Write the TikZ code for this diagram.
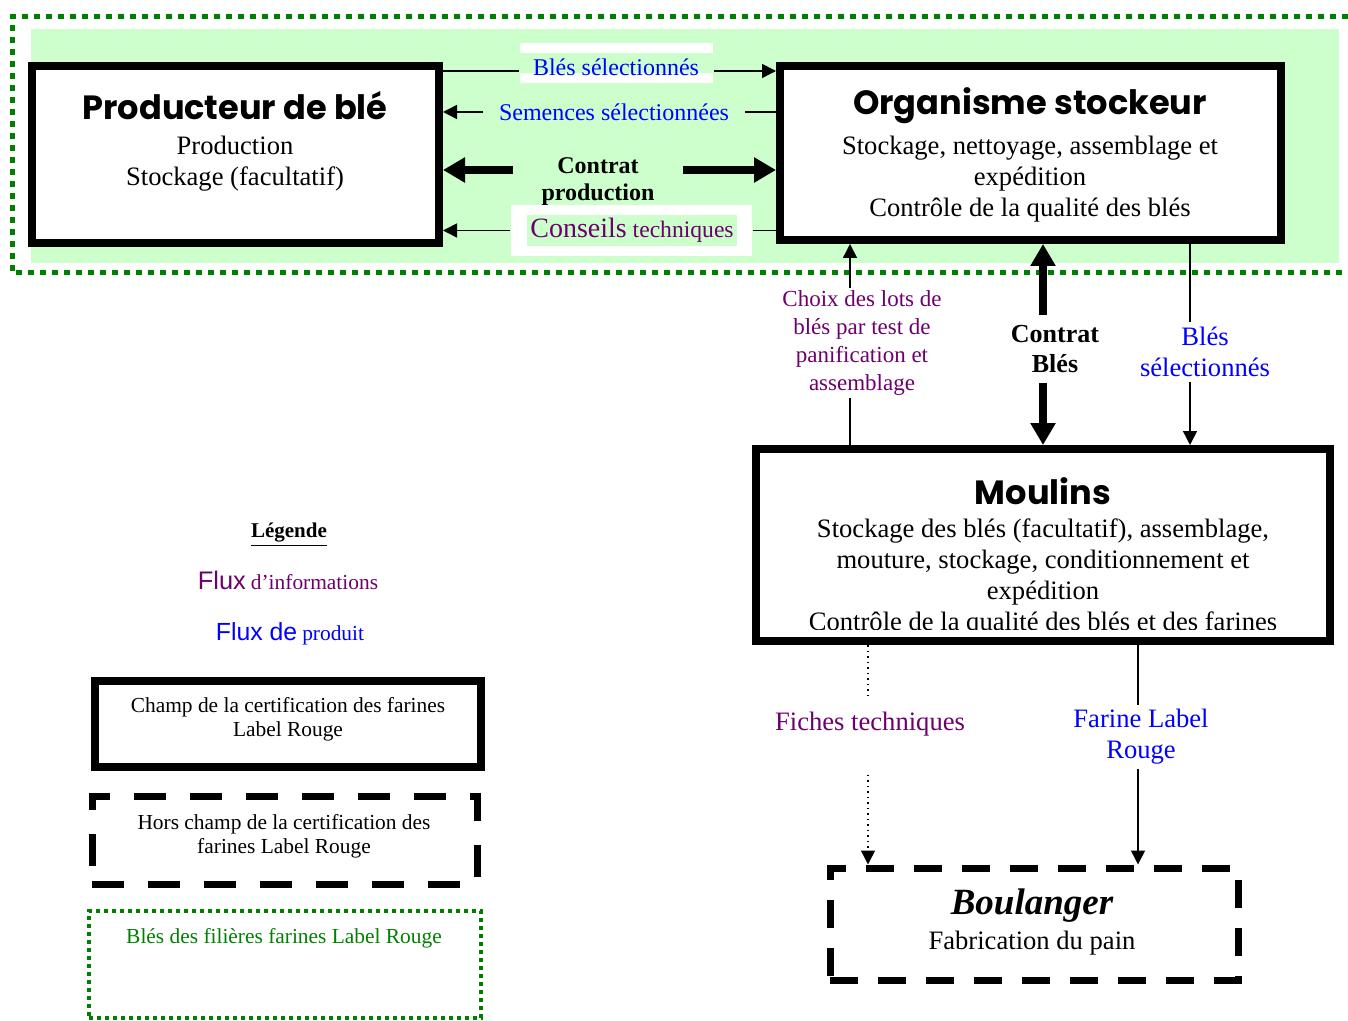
\documentclass[tikz,border=0pt]{standalone}
\usepackage{fontspec}
\setmainfont{Liberation Serif}
\newfontfamily\arialfont{Liberation Sans}
\newfontfamily\titlefont{Poppins}
\usetikzlibrary{arrows.meta,positioning}
\definecolor{vertclair}{HTML}{CCFFCC}
\definecolor{vertfonce}{HTML}{008000}
\definecolor{violetinfo}{HTML}{6E006E}
\definecolor{bleuproduit}{HTML}{0000FF}
\tikzset{every picture/.style={line width=0.75pt}}

\begin{document}
\begin{tikzpicture}[x=0.5pt,y=-0.5pt,
  boite/.style={draw, line width=4pt, fill=white},
  titre/.style={font=\titlefont\bfseries\fontsize{16.8}{20}\selectfont},
  texte/.style={align=center, font=\fontsize{13.3}{15.5}\selectfont},
  petit/.style={align=center, font=\fontsize{12}{14}\selectfont},
  legtexte/.style={align=center, font=\fontsize{10.7}{12}\selectfont},
  info/.style={text=violetinfo},
  produit/.style={text=bleuproduit},
  fleche/.style={-{Triangle[length=7pt,width=7pt]}},
  grosse/.style={line width=4pt, -{Triangle[length=11pt,width=12pt]}},
  tirets/.style={line width=3.5pt, dash pattern=on 14pt off 10pt},
  tiretsleg/.style={line width=3.5pt, dash pattern=on 16pt off 12pt},
  pointilles/.style={vertfonce, line width=2.5pt, dash pattern=on 3pt off 3pt},
  pointillesleg/.style={vertfonce, line width=2pt, dash pattern=on 2pt off 2pt}
]
\useasboundingbox (0,0) rectangle (1348,1021);
\fill[vertclair] (31,29) rectangle (1339,263);
\draw[pointilles] (1360,17) -- (12,17) -- (12,273) -- (1360,273);

\node[boite, minimum width=203.5pt, minimum height=88.5pt] (prod) at (235.5,154.5) {};
\node[titre] (prodtitre) at (235,106) {Producteur de blé};
\node[texte] (prodtexte) at (235,164) {Production\\Stockage (facultatif)};

\node[boite, minimum width=250.5pt, minimum height=87pt] (org) at (1030.5,153) {};
\node[titre] (orgtitre) at (1030,106) {Organisme stockeur};
\node[texte] (orgtexte) at (1030,179) {Stockage, nettoyage, assemblage et\\expédition\\Contrôle de la qualité des blés};

\node[boite, minimum width=287pt, minimum height=96pt] (moulins) at (1043,545) {};
\node[titre] (moutitre) at (1043,491) {Moulins};
\begin{scope}
  \clip (760,453) rectangle (1326,629);
  \node[texte] (moutexte) at (1043,577) {Stockage des blés (facultatif), assemblage,\\mouture, stockage, conditionnement et\\expédition\\Contrôle de la qualité des blés et des farines};
\end{scope}

\node[draw, tirets, minimum width=204pt, minimum height=56pt] (boul) at (1034,924) {};
\node[font=\fontsize{18.5}{22}\selectfont\bfseries\itshape] (boultitre) at (1032,906) {Boulanger};
\node[texte] (boultexte) at (1032,943) {Fabrication du pain};

% flux producteur / organisme
\node[fill=white, minimum width=96.5pt, minimum height=20pt, inner sep=0] (blesblanc) at (616.5,63) {};
\fill[vertclair] ([yshift=5pt]blesblanc.west) rectangle ([yshift=-5pt]blesblanc.east);
\node[petit, produit] (bles) at (616,67) {Blés sélectionnés};
\node[petit, produit, inner xsep=7.5pt] (semences) at (614,112) {Semences sélectionnées};
\node[petit, font=\fontsize{12}{13.5}\selectfont\bfseries, inner xsep=14pt] (contratprod) at (598,182) {Contrat\\production};
\node[fill=white, minimum width=120.5pt, minimum height=25.5pt, inner sep=0] (conseilsblanc) at (631.5,230.5) {};
\node[fill=vertclair, info, minimum width=105pt, minimum height=15.5pt, inner sep=0, font=\fontsize{11.8}{14}\selectfont] (conseils) at (632,230.5) {{\fontsize{14}{16}\selectfont Conseils} techniques};

\coordinate (yB) at (0,71);
\coordinate (yC) at (0,170);
\draw (prod.east |- yB) -- (blesblanc.west |- yB);
\draw[fleche] (blesblanc.east |- yB) -- (org.west |- yB);
\draw[fleche] (semences.west) -- (prod.east |- semences.west);
\draw (org.west |- semences.east) -- (semences.east);
\draw[grosse] (contratprod.west |- yC) -- (prod.east |- yC);
\draw[grosse] (contratprod.east |- yC) -- (org.west |- yC);
\draw[fleche] (conseilsblanc.west) -- (prod.east |- conseilsblanc.west);
\draw (org.west |- conseilsblanc.east) -- (conseilsblanc.east);

% flux organisme / moulins
\node[info, align=center, font=\fontsize{11.5}{14}\selectfont, inner ysep=1pt] (choix) at (862,343) {Choix des lots de\\blés par test de\\panification et\\assemblage};
\node[align=center, font=\fontsize{13}{15}\selectfont\bfseries, inner ysep=5pt] (contratbles) at (1055,349) {Contrat\\Blés};
\node[texte, produit, inner ysep=2pt] (blesmou) at (1205,352) {Blés\\sélectionnés};
\coordinate (xA) at (850,0);
\coordinate (xB) at (1043,0);
\coordinate (xC) at (1190,0);
\draw[fleche] (choix.north -| xA) -- (org.south -| xA);
\draw (moulins.north -| xA) -- (choix.south -| xA);
\draw[grosse] (contratbles.north -| xB) -- (org.south -| xB);
\draw[grosse] (contratbles.south -| xB) -- (moulins.north -| xB);
\draw (org.south -| xC) -- (blesmou.north -| xC);
\draw[fleche] (blesmou.south -| xC) -- (moulins.north -| xC);

% flux moulins / boulanger
\node[texte, info, inner ysep=1pt] (fiches) at (870,724) {Fiches techniques};
\node[texte, produit, inner ysep=2pt] (farine) at (1141,737) {Farine Label\\Rouge};
\coordinate (xD) at (868,0);
\coordinate (xE) at (1138,0);
\draw[dotted] (moulins.south -| xD) -- ([yshift=7pt]fiches.north -| xD);
\draw[dotted, fleche] ([yshift=-18pt]fiches.south -| xD) -- (boul.north -| xD);
\draw ([yshift=4pt]moulins.south -| xE) -- (farine.north -| xE);
\draw[fleche] (farine.south -| xE) -- (boul.north -| xE);

% legende
\node[font=\fontsize{10.5}{12}\selectfont\bfseries] (legende) at (289,535) {\underline{Légende}};
\node[info] (fluxinfo) at (288,580) {{\arialfont\fontsize{12.7}{15}\selectfont Flux} {\fontsize{10.7}{13}\selectfont d’informations}};
\node[produit] (fluxproduit) at (290,634) {{\arialfont\fontsize{12.4}{15}\selectfont Flux de} {\fontsize{10.7}{13}\selectfont produit}};
\node[boite, line width=3.75pt, minimum width=193pt, minimum height=43pt] (legchamp) at (288,724) {};
\node[legtexte] (legchamptexte) at (288,719) {Champ de la certification des farines\\Label Rouge};
\node[draw, tiretsleg, minimum width=192.5pt, minimum height=44pt] (leghors) at (284.5,840) {};
\node[legtexte] (leghorstexte) at (284,836) {Hors champ de la certification des\\farines Label Rouge};
\node[draw, pointillesleg, minimum width=196pt, minimum height=53.5pt] (legbles) at (285,964.5) {};
\node[legtexte, text=vertfonce] (legblestexte) at (284,938) {Blés des filières farines Label Rouge};
\end{tikzpicture}
\end{document}
